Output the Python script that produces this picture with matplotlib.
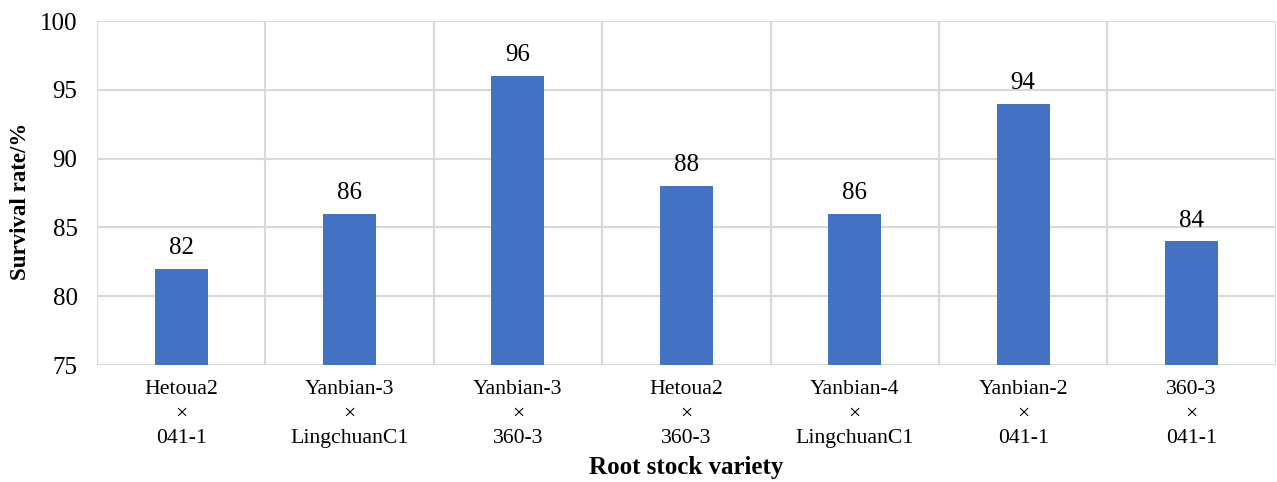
import matplotlib
matplotlib.use("Agg")
import matplotlib.pyplot as plt
import numpy as np

categories = ["Hetoua2\n×\n041-1", "Yanbian-3\n×\nLingchuanC1", "Yanbian-3\n×\n360-3",
              "Hetoua2\n×\n360-3", "Yanbian-4\n×\nLingchuanC1", "Yanbian-2\n×\n041-1",
              "360-3\n×\n041-1"]
survival = [82, 86, 96, 88, 86, 94, 84]
yticks = [75, 80, 85, 90, 95, 100]

plt.rcParams['font.family'] = ['Liberation Serif', 'DejaVu Serif']

fig = plt.figure(figsize=(12.77, 4.82), dpi=100)
ax = fig.add_axes([97/1277, 1-365/482, 1-97/1277-0.001, (365-21)/482])

x = np.arange(len(categories))
bars = ax.bar(x, survival, width=0.315, color='#4472C4', bottom=0, zorder=3)
for xi, v in zip(x, survival):
    ax.text(xi, v + 0.7, f"{v}", ha='center', va='bottom', fontsize=18)

ax.set_ylim(75, 100)
ax.set_xlim(-0.5, len(categories) - 0.5)
ax.set_yticks(yticks)
ax.set_xticks(x)
ax.set_xticklabels(categories, fontsize=15.7, linespacing=1.38)
ax.tick_params(axis='y', labelsize=18, length=0, pad=14)
ax.tick_params(axis='x', length=0, pad=11)
ax.set_xticks(np.arange(-0.5, len(categories)), minor=True)
ax.tick_params(axis='x', which='minor', length=0)
ax.grid(axis='y', which='major', color='#d9d9d9', linewidth=1.5, zorder=0)
ax.grid(axis='x', which='minor', color='#d9d9d9', linewidth=1.5, zorder=0)
ax.grid(axis='x', which='major', visible=False)
for s in ax.spines.values():
    s.set_visible(False)

ax.set_ylabel("Survival rate/%", fontsize=16.5, fontweight='bold', labelpad=5)
ax.yaxis.set_label_coords(-0.056, 0.475)
ax.set_xlabel("Root stock variety", fontsize=18, fontweight='bold', labelpad=6)

fig.savefig("out.png", dpi=100)
